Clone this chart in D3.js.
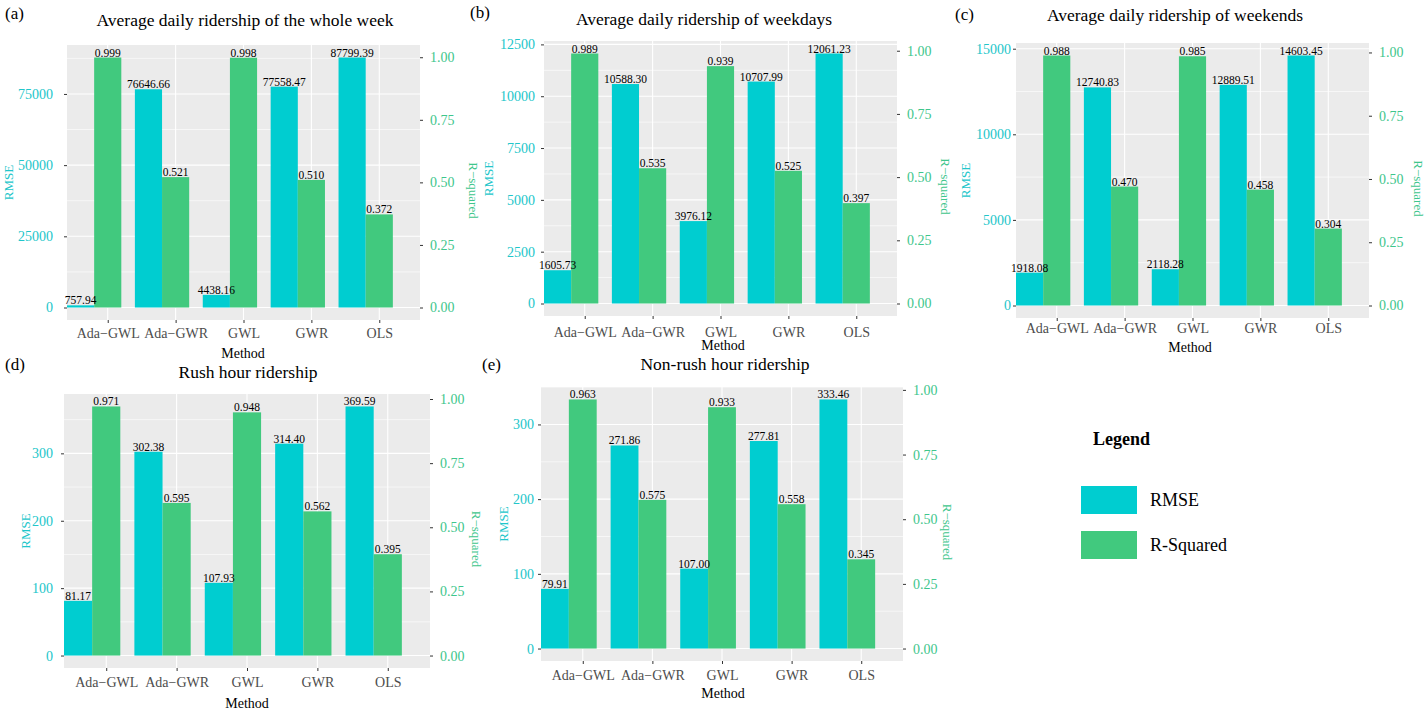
<!DOCTYPE html>
<html>
<head>
<meta charset="utf-8">
<script src="https://cdn.jsdelivr.net/npm/d3@7"></script>
<style>
  body { margin: 0; background: #fff; }
  svg { display: block; font-family: "Liberation Serif", "Times New Roman", serif; }
</style>
</head>
<body>
<svg id="chart" width="1427" height="713"></svg>
<script>
// DATA
const methods = ["Ada\u2212GWL", "Ada\u2212GWR", "GWL", "GWR", "OLS"];
const panelTags = ["(a)", "(b)", "(c)", "(d)", "(e)"];
const panelTitles = [
  "Average daily ridership of the whole week",
  "Average daily ridership of weekdays",
  "Average daily ridership of weekends",
  "Rush hour ridership",
  "Non-rush hour ridership",
];
const rmseWeek = [757.94, 76646.66, 4438.16, 77558.47, 87799.39];
const r2Week = [0.999, 0.521, 0.998, 0.51, 0.372];
const rmseWeekdays = [1605.73, 10588.3, 3976.12, 10707.99, 12061.23];
const r2Weekdays = [0.989, 0.535, 0.939, 0.525, 0.397];
const rmseWeekends = [1918.08, 12740.83, 2118.28, 12889.51, 14603.45];
const r2Weekends = [0.988, 0.47, 0.985, 0.458, 0.304];
const rmseRush = [81.17, 302.38, 107.93, 314.4, 369.59];
const r2Rush = [0.971, 0.595, 0.948, 0.562, 0.395];
const rmseNonRush = [79.91, 271.86, 107.0, 277.81, 333.46];
const r2NonRush = [0.963, 0.575, 0.933, 0.558, 0.345];
const rmseTicks = [
  [0, 25000, 50000, 75000],
  [0, 2500, 5000, 7500, 10000, 12500],
  [0, 5000, 10000, 15000],
  [0, 100, 200, 300],
  [0, 100, 200, 300],
];
const r2Ticks = [0, 0.25, 0.5, 0.75, 1];
const legendKeys = ["RMSE", "R-Squared"];

const rmseSeries = [rmseWeek, rmseWeekdays, rmseWeekends, rmseRush, rmseNonRush];
const r2Series = [r2Week, r2Weekdays, r2Weekends, r2Rush, r2NonRush];

// LAYOUT (plot box + text positions per panel)
const layout = [
  { x0: 67, x1: 420, y0: 45, y1: 320, titleX: 245, titleY: 26, tagX: 5, tagY: 19, rmseX: 8, r2X: 473, methodX: 243, methodY: 358, tickY: 338, pad: 14 },
  { x0: 544, x1: 897, y0: 41, y1: 316, titleX: 704, titleY: 25, tagX: 470, tagY: 18, rmseX: 488, r2X: 945, methodX: 723, methodY: 350, tickY: 337, pad: 9 },
  { x0: 1016, x1: 1369, y0: 43, y1: 318, titleX: 1175, titleY: 21, tagX: 955, tagY: 20, rmseX: 965, r2X: 1418, methodX: 1190, methodY: 352, tickY: 333, pad: 5 },
  { x0: 64, x1: 430, y0: 394, y1: 668, titleX: 248, titleY: 378, tagX: 5, tagY: 370, rmseX: 25, r2X: 476, methodX: 247, methodY: 708, tickY: 687, pad: 11 },
  { x0: 541, x1: 903, y0: 387, y1: 661, titleX: 725, titleY: 370, tagX: 482, tagY: 370, rmseX: 503, r2X: 947, methodX: 723, methodY: 698, tickY: 680, pad: 7 },
];

const rmseColor = "#00CDD0",
  r2Color = "#41C97E",
  rmseText = "#22C6CA",
  r2Text = "#3EC68C";

const svg = d3.select("#chart");

function styleAxis(ga, color) {
  ga.attr("font-family", null).attr("font-size", 14);
  ga.select(".domain").remove();
  ga.selectAll("line").attr("stroke", "#333");
  ga.selectAll("text").attr("fill", color);
}

panelTitles.forEach((title, p) => {
  const L = layout[p];
  const rmse = rmseSeries[p],
    r2 = r2Series[p];
  const maxRmse = d3.max(rmse);
  const factor = maxRmse / d3.max(r2);

  const g = svg.append("g");

  const x = d3.scalePoint().domain(methods).range([L.x0, L.x1]).padding(0.6);
  const step = x.step();
  const y = d3
    .scaleLinear()
    .domain([-0.05 * maxRmse, 1.05 * maxRmse])
    .range([L.y1, L.y0]);
  const yR = d3
    .scaleLinear()
    .domain(y.domain().map((v) => v / factor))
    .range(y.range());

  // panel background
  g.append("rect")
    .attr("x", L.x0)
    .attr("y", L.y0)
    .attr("width", L.x1 - L.x0)
    .attr("height", L.y1 - L.y0)
    .attr("fill", "#EBEBEB");

  // minor grid
  const ticks = rmseTicks[p];
  const tstep = ticks[1] - ticks[0];
  const minor = ticks.map((t) => t + tstep / 2).filter((v) => y(v) > L.y0);
  g.selectAll(".minor")
    .data(minor)
    .join("line")
    .attr("x1", L.x0)
    .attr("x2", L.x1)
    .attr("y1", (d) => y(d))
    .attr("y2", (d) => y(d))
    .attr("stroke", "#fff")
    .attr("stroke-width", 0.6);

  // major grid
  g.selectAll(".hmajor")
    .data(ticks)
    .join("line")
    .attr("x1", L.x0)
    .attr("x2", L.x1)
    .attr("y1", (d) => y(d))
    .attr("y2", (d) => y(d))
    .attr("stroke", "#fff")
    .attr("stroke-width", 1.1);
  g.selectAll(".vmajor")
    .data(methods)
    .join("line")
    .attr("x1", (d) => x(d))
    .attr("x2", (d) => x(d))
    .attr("y1", L.y0)
    .attr("y2", L.y1)
    .attr("stroke", "#fff")
    .attr("stroke-width", 1.1);

  // bars
  g.selectAll(".rmse")
    .data(methods)
    .join("rect")
    .attr("x", (d) => x(d) - 0.6 * step)
    .attr("width", 0.4 * step)
    .attr("y", (d, i) => y(rmse[i]))
    .attr("height", (d, i) => y(0) - y(rmse[i]))
    .attr("fill", rmseColor);
  g.selectAll(".r2")
    .data(methods)
    .join("rect")
    .attr("x", (d) => x(d) - 0.2 * step)
    .attr("width", 0.4 * step)
    .attr("y", (d, i) => y(r2[i] * factor))
    .attr("height", (d, i) => y(0) - y(r2[i] * factor))
    .attr("fill", r2Color);

  // value labels
  g.selectAll(".lr")
    .data(methods)
    .join("text")
    .attr("x", (d) => x(d) - 0.4 * step)
    .attr("y", (d, i) => y(rmse[i]) - 1)
    .attr("text-anchor", "middle")
    .attr("font-size", 11.5)
    .attr("fill", "#000")
    .text((d, i) => d3.format(".2f")(rmse[i]));
  g.selectAll(".l2")
    .data(methods)
    .join("text")
    .attr("x", (d) => x(d))
    .attr("y", (d, i) => y(r2[i] * factor) - 1)
    .attr("text-anchor", "middle")
    .attr("font-size", 11.5)
    .attr("fill", "#000")
    .text((d, i) => d3.format(".3f")(r2[i]));

  // axes
  g.append("g")
    .attr("transform", `translate(${L.x0},0)`)
    .call(d3.axisLeft(y).tickValues(ticks).tickFormat(d3.format("d")).tickSize(3).tickPadding(L.pad - 3))
    .call(styleAxis, rmseText);

  g.append("g")
    .attr("transform", `translate(${L.x1},0)`)
    .call(d3.axisRight(yR).tickValues(r2Ticks).tickFormat(d3.format(".2f")).tickSize(3).tickPadding(7))
    .call(styleAxis, r2Text);

  const gx = g
    .append("g")
    .attr("transform", `translate(0,${L.y1})`)
    .call(d3.axisBottom(x).tickSize(3))
    .call(styleAxis, "#4D4D4D");
  gx.selectAll("text").attr("y", L.tickY - L.y1).attr("dy", null);

  // titles
  g.append("text")
    .attr("x", L.titleX)
    .attr("y", L.titleY)
    .attr("text-anchor", "middle")
    .attr("font-size", 17.5)
    .text(title);
  g.append("text")
    .attr("x", L.tagX)
    .attr("y", L.tagY)
    .attr("font-size", 17)
    .text(panelTags[p]);
  g.append("text")
    .attr("x", L.methodX)
    .attr("y", L.methodY)
    .attr("text-anchor", "middle")
    .attr("font-size", 14)
    .text("Method");
  const yc = (L.y0 + L.y1) / 2;
  g.append("text")
    .attr("transform", `translate(${L.rmseX + 4.5},${yc}) rotate(-90)`)
    .attr("text-anchor", "middle")
    .attr("font-size", 13)
    .attr("fill", rmseText)
    .text("RMSE");
  g.append("text")
    .attr("transform", `translate(${L.r2X - 4.5},${yc + 8}) rotate(90)`)
    .attr("text-anchor", "middle")
    .attr("font-size", 13)
    .attr("fill", r2Text)
    .text("R\u2212squared");
});

// LEGEND
const leg = svg.append("g");
leg.append("text")
  .attr("x", 1093)
  .attr("y", 445)
  .attr("font-size", 18)
  .attr("font-weight", "bold")
  .text("Legend");
const legY = d3.scalePoint().domain(legendKeys).range([500, 545]);
const legColor = d3.scaleOrdinal().domain(legendKeys).range([rmseColor, r2Color]);
leg.selectAll("rect")
  .data(legendKeys)
  .join("rect")
  .attr("x", 1081)
  .attr("y", (d) => legY(d) - 14)
  .attr("width", 56)
  .attr("height", 28)
  .attr("fill", (d) => legColor(d));
leg.selectAll(".lt")
  .data(legendKeys)
  .join("text")
  .attr("x", 1150)
  .attr("y", (d) => legY(d) + 6)
  .attr("font-size", 18)
  .text((d) => d);
</script>
</body>
</html>
